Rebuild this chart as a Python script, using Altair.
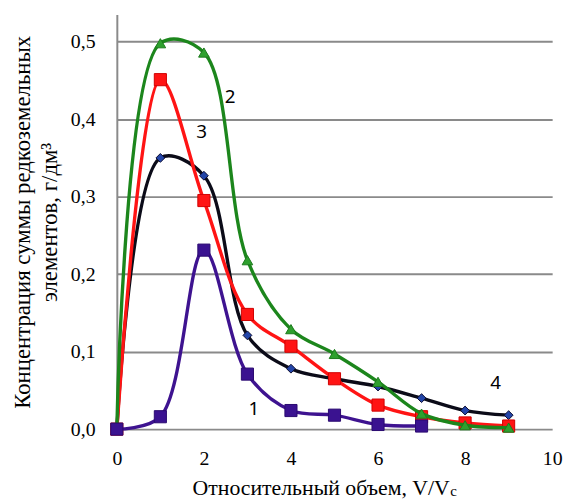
import altair as alt
import pandas as pd

# ---- data ----
x_vals = [0, 1, 2, 3, 4, 5, 6, 7, 8, 9]
s1 = [0.0, 0.016, 0.231, 0.071, 0.024, 0.018, 0.006, 0.004]          # curve 1 (purple)
s2 = [0.0, 0.498, 0.486, 0.218, 0.129, 0.097, 0.061, 0.020, 0.005, 0.002]  # curve 2 (green)
s3 = [0.0, 0.451, 0.295, 0.148, 0.107, 0.065, 0.031, 0.016, 0.008, 0.004]  # curve 3 (red)
s4 = [0.0, 0.350, 0.327, 0.121, 0.078, 0.065, 0.055, 0.040, 0.024, 0.018]  # curve 4 (black)
series_names = ["1", "2", "3", "4"]
series_vals = [s1, s2, s3, s4]

label_text = ["1", "2", "3", "4"]
label_x = [3.15, 2.6, 1.95, 8.7]
label_y = [0.026, 0.428, 0.383, 0.060]

y_ticks = [0.0, 0.1, 0.2, 0.3, 0.4, 0.5]
x_ticks = [0, 2, 4, 6, 8, 10]

rows = []
for name, vals in zip(series_names, series_vals):
    for xv, yv in zip(x_vals, vals):
        rows.append({"series": name, "x": xv, "y": yv})
df = pd.DataFrame(rows)
labels = pd.DataFrame({"t": label_text, "x": label_x, "y": label_y})

SERIF = "Liberation Serif, Times New Roman, DejaVu Serif, serif"

xs = alt.Scale(domain=[0, 10], nice=False)
ys = alt.Scale(domain=[0, 0.535], nice=False)

xaxis = alt.Axis(values=x_ticks, grid=False, domain=False, ticks=False, labelFlush=False,
                 labelFont=SERIF, labelFontSize=20, labelColor="#000",
                 labelPadding=20, title="Относительный объем, V/V",
                 titleFont=SERIF, titleFontSize=22, titleFontWeight="normal",
                 titleColor="#000", titlePadding=9, titleX=206, titleAlign="center")
yaxis = alt.Axis(values=y_ticks, grid=True, gridColor="#8a8a8a", gridWidth=2,
                 domain=True, domainColor="#8a8a8a", domainWidth=2, ticks=False,
                 labelFont=SERIF, labelFontSize=20, labelColor="#000",
                 labelPadding=22,
                 labelExpr="replace(format(datum.value, '.1f'), '.', ',')",
                 title=["Концентрация суммы редкоземельных", "элементов, г/дм³"],
                 titleFont=SERIF, titleFontSize=23, titleFontWeight="normal",
                 titleColor="#000", titlePadding=9, titleLineHeight=27)

X = alt.X("x:Q", scale=xs, axis=xaxis)
Y = alt.Y("y:Q", scale=ys, axis=yaxis)

style = {
    "4": dict(line="#0b0b18", shape="diamond", fill="#2345a8", stroke="#0b0b30", size=80),
    "3": dict(line="#ff1414", shape="square", fill="#ff1414", stroke="#d00000", size=150),
    "2": dict(line="#1c861c", shape="triangle-up", fill="#2ea02e", stroke="#1c7a1c", size=115),
    "1": dict(line="#3e1390", shape="square", fill="#3a1290", stroke="#2a0a70", size=150),
}

layers = []
for name in ["4", "3", "2", "1"]:
    st = style[name]
    d = df[df.series == name]
    base = alt.Chart(d)
    line = base.mark_line(color=st["line"], strokeWidth=3.4, interpolate="catmull-rom").encode(x=X, y=Y)
    pts = base.mark_point(shape=st["shape"], filled=True, fill=st["fill"], stroke=st["stroke"],
                          strokeWidth=1, size=st["size"], opacity=1).encode(x=X, y=Y)
    layers += [line, pts]

txt = alt.Chart(labels).mark_text(font="Noto Sans", fontSize=19, color="#000").encode(
    x=X, y=Y, text="t:N")
layers.append(txt)

# subscript "c" of V/Vc in the x-axis title
sub = alt.Chart(pd.DataFrame({"t": ["c"]})).mark_text(
    font=SERIF, fontSize=15, color="#000", align="left", baseline="alphabetic"
).encode(x=alt.value(337), y=alt.value(487), text="t:N")
layers.append(sub)

chart = alt.layer(*layers).properties(
    width=440, height=419,
    background="white",
    padding={"left": 110, "top": 4, "right": 15, "bottom": 70},
    autosize=alt.AutoSizeParams(type="none"),
).configure_view(stroke=None)

chart.save("out.html", embed_options={"renderer": "svg", "actions": False})
